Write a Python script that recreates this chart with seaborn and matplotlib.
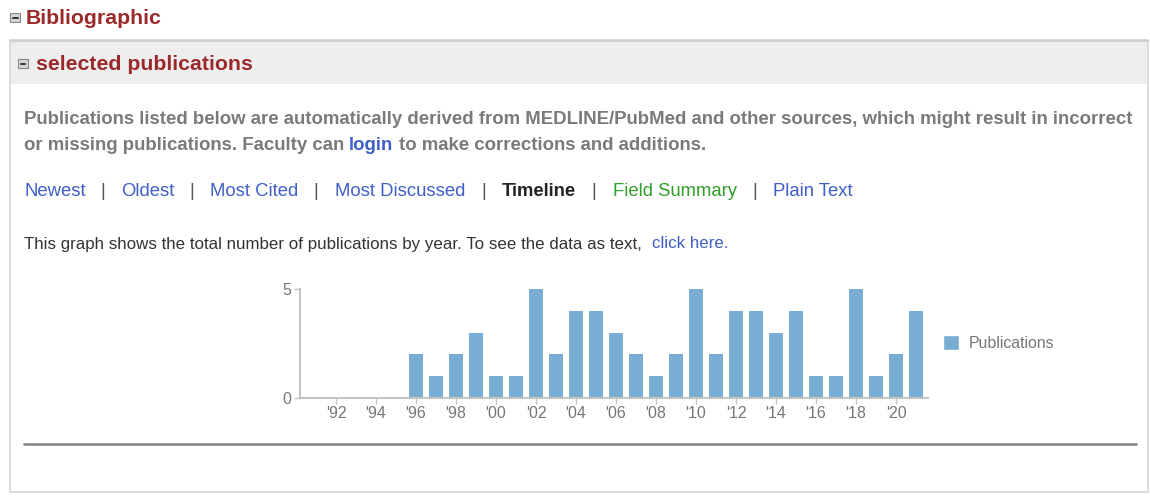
import matplotlib
matplotlib.use("Agg")
import matplotlib.pyplot as plt
import seaborn as sns
from matplotlib.patches import Rectangle, Patch
from matplotlib.lines import Line2D

years = [1996, 1997, 1998, 1999, 2000, 2001, 2002, 2003, 2004, 2005, 2006, 2007, 2008,
         2009, 2010, 2011, 2012, 2013, 2014, 2015, 2016, 2017, 2018, 2019, 2020, 2021]
pubs = [2, 1, 2, 3, 1, 1, 5, 2, 4, 4, 3, 2, 1, 2, 5, 2, 4, 4, 3, 4, 1, 1, 5, 1, 2, 4]
tick_years = list(range(1992, 2021, 2))
tick_labels = ["'" + str(y)[2:] for y in tick_years]

W, H = 1150, 503
sns.set_style("white")
plt.rcParams['font.family'] = ['Liberation Sans', 'DejaVu Sans']

fig = plt.figure(figsize=(11.5, 5.03), dpi=100)
fig.patch.set_facecolor('white')


def fx(x):
    return x / W


def fy(y):
    return 1 - y / H


def txt(x, y, s, **kw):
    kw.setdefault('ha', 'left')
    fig.text(fx(x), fy(y), s, va='center', **kw)


def icon(x, y):
    fig.add_artist(Rectangle((fx(x), fy(y + 9)), 10 / W, 9 / H, transform=fig.transFigure,
                             facecolor='#d4d4d4', edgecolor='#8a8a8a', lw=0.8))
    fig.add_artist(Line2D([fx(x + 2.5), fx(x + 7.5)], [fy(y + 4.5)] * 2,
                          transform=fig.transFigure, color='#333333', lw=1.4))


RED = '#9a2a2a'
BLUE = '#3f5fc6'
GREEN = '#2f9e2a'
GRAY = '#7a7a7a'

# panel box + header band (kept behind the chart axes)
fig.add_artist(Rectangle((fx(10), fy(492)), 1138 / W, 452 / H, transform=fig.transFigure,
                         facecolor='white', edgecolor='#d6d6d6', lw=1.2, zorder=-2))
fig.add_artist(Rectangle((fx(11), fy(84)), 1136 / W, 44 / H, transform=fig.transFigure,
                         facecolor='#eeeeee', edgecolor='none', zorder=-1))
fig.add_artist(Line2D([fx(10), fx(1148)], [fy(41)] * 2, transform=fig.transFigure,
                      color='#d0d0d0', lw=1.5, zorder=-1))

icon(10, 13)
txt(26, 18, 'Bibliographic', color=RED, fontsize=15.3, fontweight='bold')
icon(18, 59)
txt(36, 64, 'selected publications', color=RED, fontsize=15.3, fontweight='bold')

PS = 13.4
txt(24, 119, 'Publications listed below are automatically derived from MEDLINE/PubMed and other '
             'sources, which might result in incorrect', color=GRAY, fontsize=PS, fontweight='bold')
txt(24, 145, 'or missing publications. Faculty can', color=GRAY, fontsize=PS, fontweight='bold')
txt(349, 145, 'login', color=BLUE, fontsize=PS, fontweight='bold')
txt(399, 145, 'to make corrections and additions.', color=GRAY, fontsize=PS, fontweight='bold')

nav = [(24, 'Newest', BLUE, 'normal'), (121, 'Oldest', BLUE, 'normal'),
       (210, 'Most Cited', BLUE, 'normal'), (335, 'Most Discussed', BLUE, 'normal'),
       (502, 'Timeline', '#222222', 'bold'), (613, 'Field Summary', GREEN, 'normal'),
       (773, 'Plain Text', BLUE, 'normal')]
for x, s, c, w in nav:
    txt(x, 191, s, color=c, fontsize=13.3, fontweight=w)
for x in [103, 192, 316, 484, 594, 755]:
    txt(x, 191, '|', color='#555555', fontsize=13.3, ha='center')

txt(24, 244, 'This graph shows the total number of publications by year. To see the data as text,',
    color='#333333', fontsize=12.2)
txt(652, 244, 'click here.', color=BLUE, fontsize=12.2)

fig.add_artist(Line2D([fx(24), fx(1136)], [fy(444)] * 2, transform=fig.transFigure,
                      color='#8c8c8c', lw=2))

# chart
ax = fig.add_axes([fx(300), fy(398), 628 / W, 109 / H])
bar_color = '#7aadd4'
sns.barplot(x=years, y=pubs, native_scale=True, color=bar_color, width=0.7,
            saturation=1, ax=ax, edgecolor='none')
ax.set_xlim(1990.2, 2021.6)
ax.set_ylim(0, 5)
ax.set_xticks(tick_years)
ax.set_xticklabels(tick_labels)
ax.set_yticks([0, 5])
ax.set_xlabel('')
ax.set_ylabel('')
for side in ['top', 'right']:
    ax.spines[side].set_visible(False)
for side in ['left', 'bottom']:
    ax.spines[side].set_color('#c4c4c4')
    ax.spines[side].set_linewidth(1.5)
ax.tick_params(axis='both', colors='#c4c4c4', labelcolor='#777777', labelsize=11.5,
               length=4, width=1, pad=2, bottom=True, left=True)
ax.set_facecolor('none')

fig.legend(handles=[Patch(facecolor=bar_color, label='Publications')],
           loc='center left', bbox_to_anchor=(fx(929), fy(343)), frameon=False,
           fontsize=11.4, labelcolor='#777777', handlelength=1.0, handleheight=1.1,
           handletextpad=0.6)

fig.savefig('out.png', dpi=100)
